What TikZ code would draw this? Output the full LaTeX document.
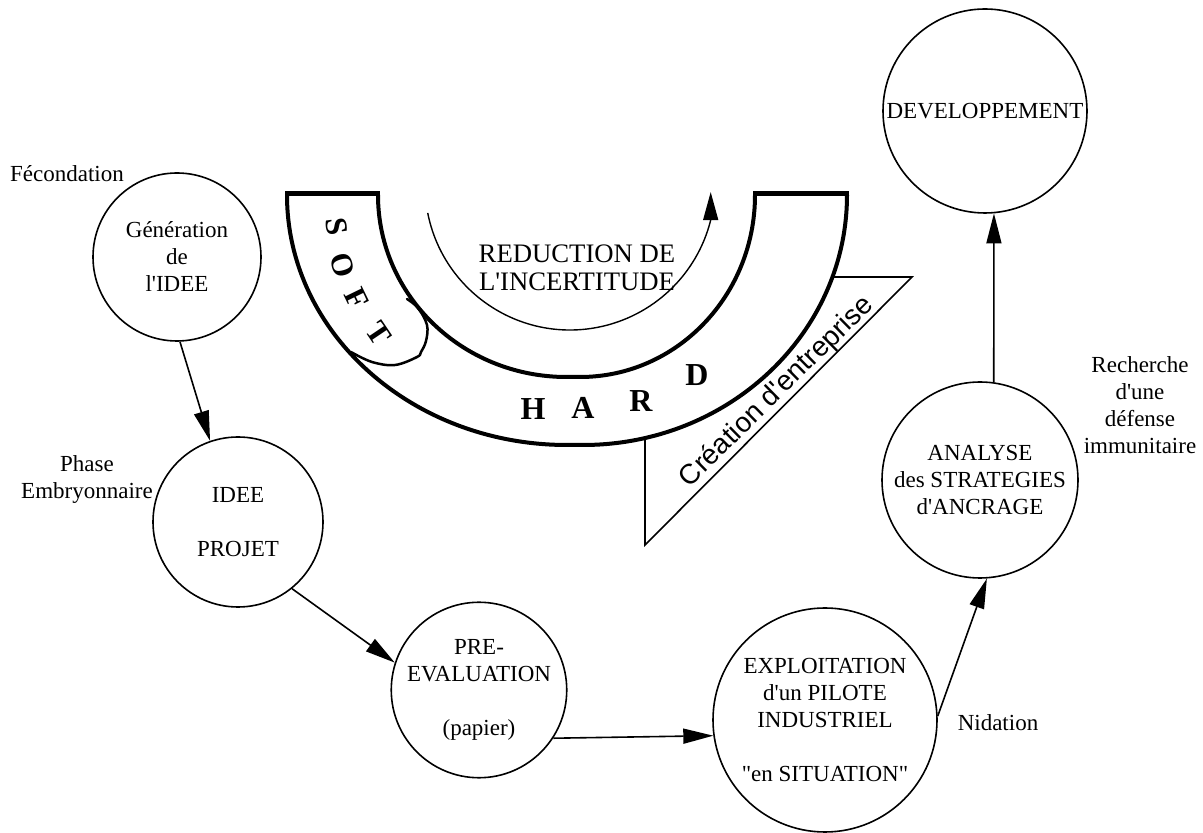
\documentclass[tikz,border=0pt]{standalone}
\usepackage{fontspec}
\setmainfont{Liberation Serif}
\newfontfamily\creafont{Liberation Sans}
\usetikzlibrary{arrows.meta}
\newcommand\apos{\textquotesingle}
\begin{document}
\begin{tikzpicture}[x=1pt,y=1pt,
  txt/.style={font=\fontsize{23}{27}\selectfont, align=center, inner sep=0pt},
  phase/.style={circle, draw, line width=1.6pt, inner sep=0pt, txt},
  conn/.style={line width=1.6pt, -{Triangle[length=30pt,width=15pt]}},
  band/.style={line width=4pt, line join=round},
  bandend/.style={line width=5pt},
  softletter/.style={font=\fontsize{31}{31}\selectfont\bfseries, inner sep=0pt},
  hardletter/.style={font=\fontsize{32}{32}\selectfont\bfseries, inner sep=0pt},
]
\useasboundingbox (0,0) rectangle (1203,833);

% wedge: creation of the company
\draw[line width=1.6pt, line join=miter] (645,556) -- (912,556) -- (645,288) -- cycle;

% the U-shaped band (soft / hard)
\fill[white] (287,638) arc[start angle=180, end angle=270, x radius=280, y radius=250]
  -- (583,388) arc[start angle=270, end angle=360, x radius=264, y radius=250] -- cycle;
\draw[band] (287,638) arc[start angle=180, end angle=270, x radius=280, y radius=250]
  -- (583,388) arc[start angle=270, end angle=360, x radius=264, y radius=250];
\draw[band] (378,638) arc[start angle=180, end angle=270, x radius=188.5, y radius=182]
  -- (580,456) arc[start angle=270, end angle=360, x radius=175, y radius=182];
\draw[bandend] (285,639) -- (380,639);
\draw[bandend] (753,639) -- (849,639);

\node[font=\creafont\fontsize{28}{28}\selectfont, rotate=44.5, inner sep=0pt] (crea) at (777,441) {Création d\apos entreprise};

% soft zone boundary
\draw[line width=2.5pt, line cap=round, line join=round]
  plot[smooth, tension=0.6] coordinates {(407,534) (418,525) (427,508) (426,492) (421,481) (417,476) (395,468) (372,471) (351,481)};

\node[softletter, rotate=-82] (s1) at (337,606) {S};
\node[softletter, rotate=-74] (s2) at (343,568) {O};
\node[softletter, rotate=-64] (s3) at (357,534) {F};
\node[softletter, rotate=-56] (s4) at (379,500) {T};

\node[hardletter] (h1) at (533,424) {H};
\node[hardletter] (h2) at (583,425) {A};
\node[hardletter] (h3) at (641,432) {R};
\node[hardletter] (h4) at (697,458) {D};

% uncertainty reduction
\draw[line width=1.4pt, -{Triangle[length=28pt,width=15pt]}]
  (570,648) ++(191.1:145) arc[start angle=191.1, end angle=346, radius=145] -- ++(0,28);
\node[font=\fontsize{26.7}{28}\selectfont, align=center, inner sep=0pt] (red) at (577,565) {REDUCTION DE\\L\apos INCERTITUDE};

% phases
\node[phase, minimum size=168pt] (c1) at (177,576) {Génération\\de\\l\apos IDEE};
\node[phase, minimum size=170pt] (c2) at (238,311) {IDEE\\[27pt]PROJET};
\node[phase, minimum size=168pt] (c3) at (479,143) {PRE-\\EVALUATION\\[27pt](papier)};
\node[phase, minimum size=224pt] (c4) at (825,113) {EXPLOITATION\\d\apos un PILOTE\\INDUSTRIEL\\[27pt]\textquotedbl en SITUATION\textquotedbl};
\node[phase, minimum size=196pt] (c5) at (980,353) {ANALYSE\\des STRATEGIES\\d\apos ANCRAGE};
\node[phase, minimum size=204pt] (c6) at (985,722) {DEVELOPPEMENT};

\draw[conn] (c1.-88) -- (c2.109);
\draw[conn] (c2.-51.5) -- (c3.162);
\draw[conn] (c3.-33.5) -- (c4.188.4);
\draw[conn] (c4.2.5) -- (c5.-86.5);
\draw[conn] (c5.82) -- (c6.-85.2);

% side labels
\node[txt] (fec) at (67,659) {Fécondation};
\node[txt] (emb) at (87,353) {Phase\\Embryonnaire};
\node[txt] (nid) at (998,110) {Nidation};
\node[txt] (imm) at (1140,428) {Recherche\\d\apos une\\défense\\immunitaire};
\end{tikzpicture}
\end{document}
